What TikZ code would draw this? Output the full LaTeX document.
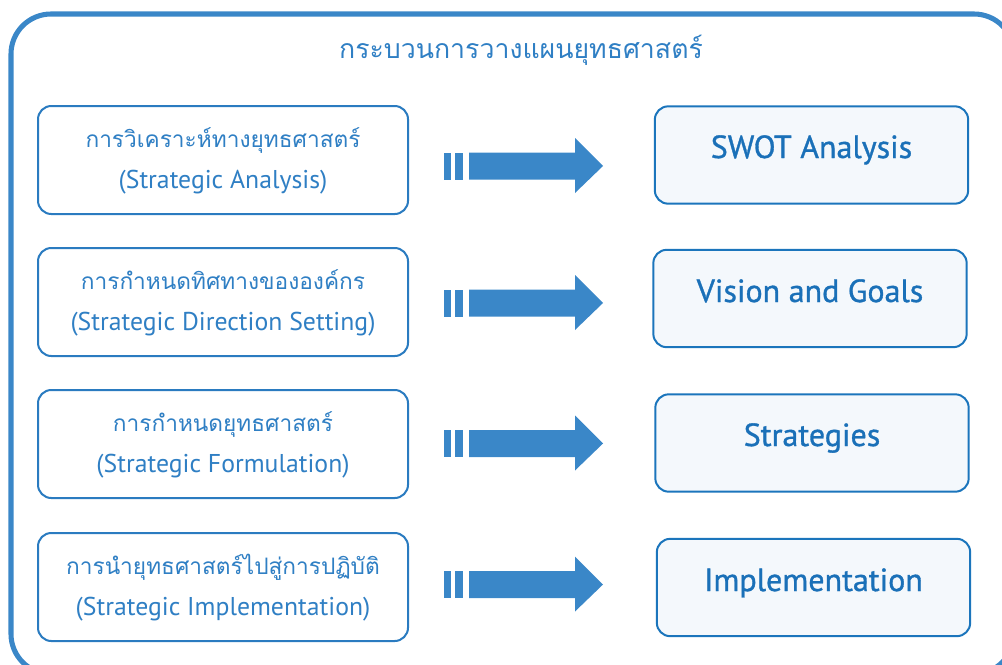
\documentclass[tikz,border=0pt]{standalone}
\usepackage{fontspec}
\setmainfont{PT Sans}
\newfontfamily\thaifont[Script=Thai]{Loma}
\newfontfamily\latfont{PT Sans}
\newfontfamily\medfont[FakeBold=1.0]{PT Sans}
\definecolor{outerblue}{HTML}{3A87C8}
\definecolor{arrowblue}{HTML}{3A87C8}
\definecolor{leftborder}{HTML}{2A7BC0}
\definecolor{lefttext}{HTML}{2F7FC4}
\definecolor{rightborder}{HTML}{1B75BC}
\definecolor{rightfill}{HTML}{F4F8FC}
\definecolor{righttext}{HTML}{1A70B8}
\tikzset{
  outerframe/.style={draw=outerblue, line width=3.8pt, rounded corners=30pt},
  leftbox/.style={draw=leftborder, line width=1.5pt, rounded corners=10pt, fill=white,
    minimum width=277.5pt, minimum height=81pt, inner sep=0pt},
  rightbox/.style={draw=rightborder, line width=1.5pt, rounded corners=10pt, fill=rightfill,
    minimum width=235pt, minimum height=73pt, inner sep=0pt},
  thailine/.style={anchor=base, text=lefttext, font=\thaifont\fontsize{17}{20}\selectfont, inner sep=0pt},
  latline/.style={anchor=base, text=lefttext, font=\latfont\fontsize{19.3}{22}\selectfont, inner sep=0pt},
  rightlabel/.style={anchor=base, text=righttext, font=\medfont\fontsize{24}{28}\selectfont, inner sep=0pt},
  titletext/.style={anchor=base, text=lefttext, font=\thaifont\fontsize{20}{24}\selectfont, inner sep=0pt},
  blockarrow/.style={fill=arrowblue, draw=none}
}
\begin{document}
\begin{tikzpicture}[x=0.75pt,y=-0.75pt]
\useasboundingbox (0,0) rectangle (1002,664);
\clip (0,0) rectangle (1002,664);
\draw[outerframe] (11,14) rectangle (1014,674);
\node[titletext] (title) at (521,58) {กระบวนการวางแผนยุทธศาสตร์};

% left boxes
\node[leftbox] (l1) at (223,160) {};
\node[leftbox] (l2) at (223,302) {};
\node[leftbox] (l3) at (223,444) {};
\node[leftbox] (l4) at (223,587) {};

\node[thailine] (l1t) at (223,147) {การวิเคราะห์ทางยุทธศาสตร์};
\node[latline] (l1e) at (223,188) {(Strategic Analysis)};
\node[thailine] (l2t) at (223,289) {การกำหนดทิศทางขององค์กร};
\node[latline] (l2e) at (223,330) {(Strategic Direction Setting)};
\node[thailine] (l3t) at (223,431) {การกำหนดยุทธศาสตร์};
\node[latline] (l3e) at (223,472) {(Strategic Formulation)};
\node[thailine] (l4t) at (223,574) {การนำยุทธศาสตร์ไปสู่การปฏิบัติ};
\node[latline] (l4e) at (223,615) {(Strategic Implementation)};

% right boxes
\node[rightbox] (r1) at (811.5,155) {};
\node[rightbox] (r2) at (810,298.5) {};
\node[rightbox] (r3) at (812,443) {};
\node[rightbox] (r4) at (813.5,587.5) {};
\node[rightlabel] (r1t) at (811.5,158) {SWOT Analysis};
\node[rightlabel] (r2t) at (810,302) {Vision and Goals};
\node[rightlabel] (r3t) at (812,446) {Strategies};
\node[rightlabel] (r4t) at (813.5,591) {Implementation};

% block arrows
\foreach \cy/\nm in {166/a1,303/a2,443.5/a3,584.5/a4}{
  \coordinate (\nm) at (523,\cy);
  \fill[blockarrow] (444,\cy-13.5) rectangle (451,\cy+13.5);
  \fill[blockarrow] (455,\cy-13.5) rectangle (463,\cy+13.5);
  \fill[blockarrow] (469,\cy-13.5) -- (575,\cy-13.5) -- (575,\cy-28) -- (603,\cy)
     -- (575,\cy+27) -- (575,\cy+13.5) -- (469,\cy+13.5) -- cycle;
}
\end{tikzpicture}
\end{document}
